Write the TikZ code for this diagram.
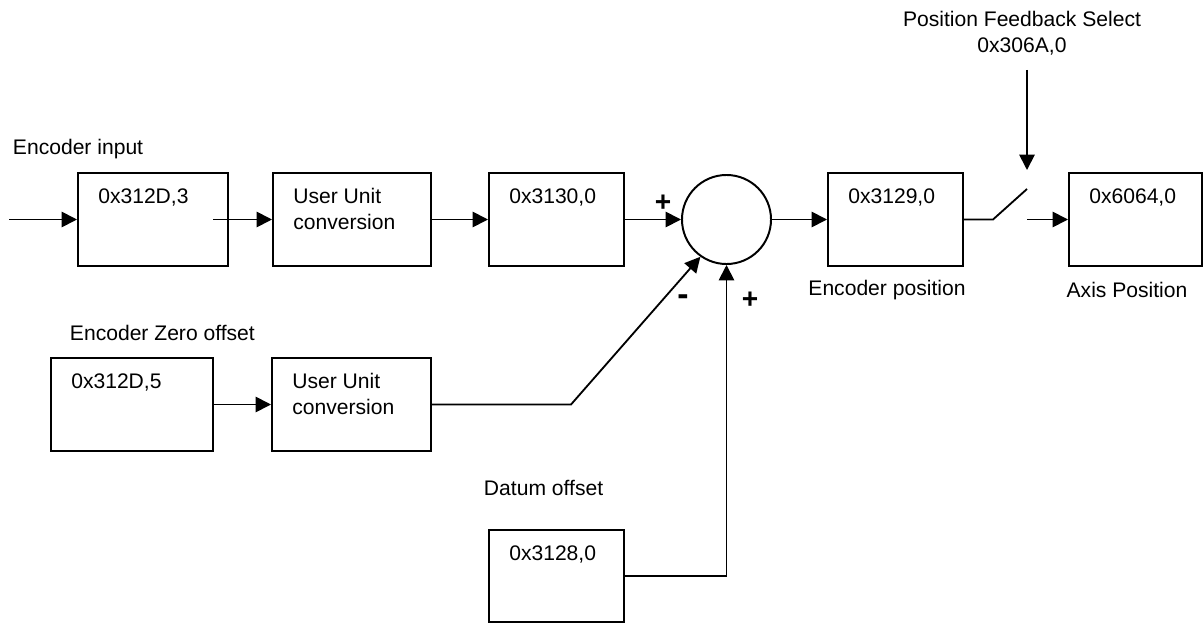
\documentclass[tikz,border=0pt]{standalone}
\usepackage{fontspec}
\setmainfont{Liberation Sans}
\usetikzlibrary{arrows.meta,calc}

\begin{document}
\begin{tikzpicture}
    [x=0.025cm, y=-0.025cm,
    every node/.style={font=\fontsize{15}{18.5}\selectfont},
    block/.style={draw, line width=1.4pt, minimum height=2.325cm, inner sep=0pt,
        label={[anchor=north west, inner sep=0pt, align=left, xshift=0.525cm, yshift=-0.4cm]north west:{#1}}},
    sign/.style={font=\fontsize{20}{20}\selectfont\bfseries},
    arr/.style={line width=1.3pt, -{Triangle[length=11pt, width=11pt]}},
    wire/.style={line width=1.3pt}]
    \useasboundingbox (0,0) rectangle (1203,624);

    \node (enc) [block={0x312D,3}, minimum width=3.75cm] at (153,219.5) {};
    \node (conv) [block={User Unit\\conversion}, minimum width=3.95cm] at (352,219.5) {};
    \node (scaled) [block={0x3130,0}, minimum width=3.375cm] at (556.5,219.5) {};
    \node (sum) [circle, draw, line width=1.4pt, minimum size=2.225cm, inner sep=0pt] at (726.5,219.5) {};
    \node (encpos) [block={0x3129,0}, minimum width=3.375cm] at (895.5,219.5) {};
    \node (axispos) [block={0x6064,0}, minimum width=3.325cm] at (1135.5,219.5) {};
    \node (zero) [block={0x312D,5}, minimum width=4.05cm] at (132,404.5) {};
    \node (zeroconv) [block={User Unit\\conversion}, minimum width=3.975cm] at (351.5,404.5) {};
    \node (datum) [block={0x3128,0}, minimum width=3.375cm, minimum height=2.3cm] at (556.5,576) {};

    \node (lblin) [anchor=west] at (8,149) {Encoder input};
    \node (lblsel) [align=center] at (1022,33) {Position Feedback Select\\0x306A,0};
    \node (lblencpos) at (887,290) {Encoder position};
    \node (lblaxis) at (1127,290) {Axis Position};
    \node (lblzero) [anchor=west] at (65,333) {Encoder Zero offset};
    \node (lbldatum) [anchor=west] at (479,488) {Datum offset};

    \node (plusa) [sign] at (663,203) {+};
    \node (minus) [sign, font=\fontsize{24}{24}\selectfont\bfseries] at (683,300) {-};
    \node (plusb) [sign] at (750,300) {+};

    \coordinate (in) at (9,219.5);
    \coordinate (sw1) at (993,219.5);
    \coordinate (sw2) at (1027,189);
    \coordinate (sw3) at (1027,219.5);
    \coordinate (sel) at (1027,70);
    \coordinate (selend) at (1027,170);
    \coordinate (bend) at (571,404.5);

    \draw[arr] (in) -- (enc);
    \draw[arr] ($(enc.east)+(-16,0)$) -- (conv);
    \draw[arr] (conv) -- (scaled);
    \draw[arr] (scaled) -- (sum);
    \draw[arr] (sum) -- (encpos);
    \draw[wire] (encpos) -- (sw1) -- (sw2);
    \draw[arr] (sw3) -- (axispos);
    \draw[arr] (sel) -- (selend);
    \draw[arr] (zero) -- (zeroconv);
    \draw[arr] (zeroconv) -- (bend) -- (sum.235);
    \draw[arr] (datum) -| (sum);
\end{tikzpicture}
\end{document}
